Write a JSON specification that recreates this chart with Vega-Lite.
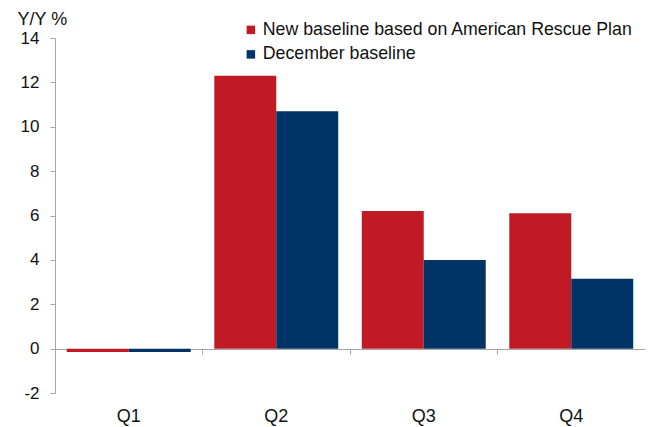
{
  "$schema": "https://vega.github.io/schema/vega-lite/v6.json",
  "width": 590,
  "height": 355,
  "autosize": {"type": "none"},
  "padding": {"left": 55, "top": 38, "right": 6, "bottom": 34},
  "background": "white",
  "config": {
    "view": {"stroke": null},
    "font": "Liberation Sans",
    "axis": {"labelFont": "Liberation Sans", "titleFont": "Liberation Sans", "labelColor": "#111", "titleColor": "#111"}
  },
  "data": {
    "values": [
      {"quarter": "Q1", "series": "New baseline based on American Rescue Plan", "value": -0.15},
      {"quarter": "Q1", "series": "December baseline", "value": -0.15},
      {"quarter": "Q2", "series": "New baseline based on American Rescue Plan", "value": 12.3},
      {"quarter": "Q2", "series": "December baseline", "value": 10.7},
      {"quarter": "Q3", "series": "New baseline based on American Rescue Plan", "value": 6.2},
      {"quarter": "Q3", "series": "December baseline", "value": 4.0},
      {"quarter": "Q4", "series": "New baseline based on American Rescue Plan", "value": 6.1},
      {"quarter": "Q4", "series": "December baseline", "value": 3.15}
    ]
  },
  "mark": {"type": "bar"},
  "encoding": {
    "x": {
      "field": "quarter",
      "type": "nominal",
      "scale": {"paddingInner": 0, "paddingOuter": 0},
      "axis": {
        "title": null,
        "labelAngle": 0,
        "offset": -44,
        "bandPosition": 0,
        "labelPadding": 53,
        "tickSize": 5,
        "domainColor": "#a6a6a6",
        "tickColor": "#a6a6a6",
        "labelFontSize": 18,
        "labelAlign": "center"
      }
    },
    "xOffset": {
      "field": "series",
      "type": "nominal",
      "sort": ["New baseline based on American Rescue Plan", "December baseline"],
      "scale": {"paddingInner": 0, "paddingOuter": 0.19}
    },
    "y": {
      "field": "value",
      "type": "quantitative",
      "scale": {"domain": [-2, 14], "nice": false, "zero": false},
      "axis": {
        "values": [-2, 0, 2, 4, 6, 8, 10, 12, 14],
        "labelExpr": "replace(datum.label, '−', '-')",
        "grid": false,
        "title": "Y/Y %",
        "titleAngle": 0,
        "titleAlign": "left",
        "titleBaseline": "alphabetic",
        "titleX": -38,
        "titleY": -14,
        "titleFontSize": 18,
        "titleFontWeight": "normal",
        "labelFontSize": 17,
        "labelPadding": 11,
        "tickSize": 5,
        "domainColor": "#a6a6a6",
        "tickColor": "#a6a6a6"
      }
    },
    "color": {
      "field": "series",
      "type": "nominal",
      "sort": ["New baseline based on American Rescue Plan", "December baseline"],
      "scale": {"range": ["#C01B25", "#003366"]},
      "legend": {
        "title": null,
        "orient": "none",
        "legendX": 187,
        "legendY": -17,
        "symbolType": "square",
        "symbolSize": 72,
        "symbolStrokeWidth": 0,
        "labelFontSize": 17.75,
        "labelColor": "#111",
        "labelOffset": 3,
        "rowPadding": 5.5,
        "labelLimit": 500
      }
    }
  }
}
